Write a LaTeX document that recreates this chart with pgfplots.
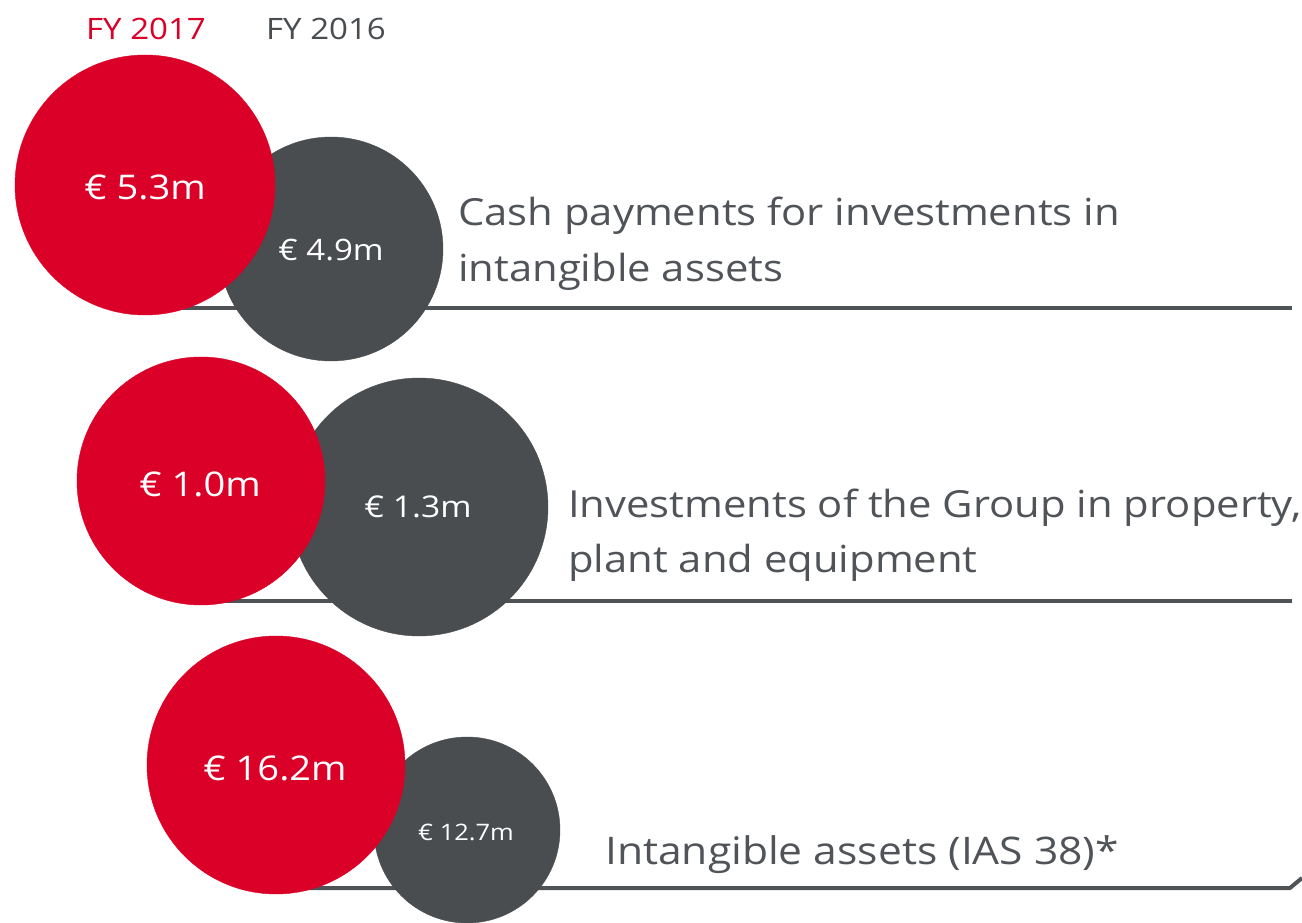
\documentclass[border=0pt]{standalone}
\usepackage{pgfplots}
\pgfplotsset{compat=1.18}
\usepackage{fontspec}
\setmainfont{Open Sans}[FakeStretch=1.12]
\definecolor{redc}{RGB}{218,0,40}
\definecolor{grayc}{RGB}{73,77,80}
\definecolor{textc}{RGB}{80,84,88}
\definecolor{linec}{RGB}{80,83,86}
\begin{document}
\begin{tikzpicture}
\begin{axis}[
  scale only axis, width=1302pt, height=922pt,
  xmin=0, xmax=1302, ymin=0, ymax=922,
  hide axis, clip=false, set layers,
]
\coordinate (SW) at (axis cs:0,0);
\coordinate (NE) at (axis cs:1302,922);
% base lines
\addplot[linec, line width=4pt, no marks] coordinates {(150,614) (1292,614)};
\addplot[linec, line width=4pt, no marks] coordinates {(200,321) (1292,321)};
\addplot[linec, line width=4pt, no marks, line join=round] coordinates {(250,34) (1290,34) (1302,44)};
% FY 2016 bubbles
\addplot[scatter, only marks, mark=*,
  point meta=explicit,
  visualization depends on={\thisrow{r} \as \rr},
  scatter/use mapped color={draw=grayc, fill=grayc},
  scatter/@pre marker code/.append style={/tikz/mark size=\rr pt}]
  table[meta=r] {
x y r
331 673 112
419 415 129
467 92 93
};
% FY 2017 bubbles
\addplot[scatter, only marks, mark=*,
  point meta=explicit,
  visualization depends on={\thisrow{r} \as \rr},
  scatter/use mapped color={draw=redc, fill=redc},
  scatter/@pre marker code/.append style={/tikz/mark size=\rr pt}]
  table[meta=r] {
x y r
145 737 130
201 441 124
276 157 129
};
\begin{pgfonlayer}{axis foreground}
% bubble labels
\node[white, font=\fontsize{34}{36}\selectfont] at (axis cs:145,735) {€ 5.3m};
\node[white, font=\fontsize{29.5}{32}\selectfont] at (axis cs:331,672) {€ 4.9m};
\node[white, font=\fontsize{34}{36}\selectfont] at (axis cs:200,438) {€ 1.0m};
\node[white, font=\fontsize{30}{32}\selectfont] at (axis cs:418,415) {€ 1.3m};
\node[white, font=\fontsize{34}{36}\selectfont] at (axis cs:275,154) {€ 16.2m};
\node[white, font=\fontsize{22.7}{25}\selectfont] at (axis cs:466,90) {€ 12.7m};
% legend
\node[redc, font=\fontsize{29.5}{33}\selectfont, anchor=base] at (axis cs:146,882) {FY 2017};
\node[grayc, font=\fontsize{29.5}{33}\selectfont, anchor=base] at (axis cs:326,882) {FY 2016};
% category texts
\node[textc, font=\fontsize{37.3}{42}\selectfont, anchor=base west, inner sep=0pt] at (axis cs:458,696) {Cash payments for investments in};
\node[textc, font=\fontsize{37.3}{42}\selectfont, anchor=base west, inner sep=0pt] at (axis cs:458,640) {intangible assets};
\node[textc, font=\fontsize{37.3}{42}\selectfont, anchor=base west, inner sep=0pt] at (axis cs:568,404) {Investments of the Group in property,};
\node[textc, font=\fontsize{37.3}{42}\selectfont, anchor=base west, inner sep=0pt] at (axis cs:568,349) {plant and equipment};
\node[textc, font=\fontsize{38}{42}\selectfont, anchor=base west, inner sep=0pt] at (axis cs:605,58) {Intangible assets (IAS 38)*};
\end{pgfonlayer}
\end{axis}
\pgfresetboundingbox
\useasboundingbox (SW) rectangle (NE);
\end{tikzpicture}
\end{document}
